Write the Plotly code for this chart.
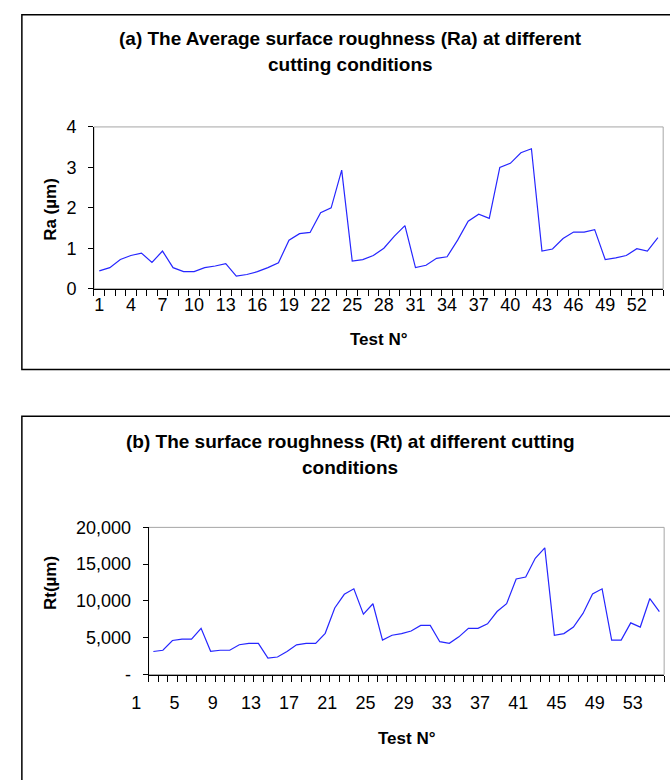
import plotly.graph_objects as go

# Test numbers and measured roughness values
tests = list(range(1, 55))

ra_um = [0.44, 0.52, 0.72, 0.82, 0.88, 0.65, 0.93, 0.52, 0.42, 0.42,
         0.52, 0.56, 0.62, 0.31, 0.35, 0.42, 0.52, 0.64, 1.20, 1.36,
         1.39, 1.88, 2.00, 2.93, 0.68, 0.72, 0.82, 1.00, 1.30, 1.56,
         0.52, 0.58, 0.75, 0.79, 1.20, 1.67, 1.84, 1.74, 3.00, 3.10,
         3.36, 3.46, 0.93, 0.98, 1.24, 1.40, 1.40, 1.46, 0.72, 0.76,
         0.82, 0.99, 0.93, 1.26]

rt_um = [3130, 3300, 4620, 4810, 4810, 6270, 3150, 3300, 3300, 4050,
         4240, 4240, 2230, 2380, 3130, 4040, 4240, 4240, 5600, 9050,
         10900, 11650, 8210, 9620, 4680, 5340, 5560, 5920, 6670, 6670,
         4460, 4240, 5120, 6270, 6270, 6890, 8560, 9620, 12980, 13250,
         15800, 17220, 5340, 5560, 6450, 8300, 10950, 11650, 4680, 4680,
         7020, 6450, 10330, 8560]

ra_ticks = [0, 1, 2, 3, 4]
rt_ticks = [0, 5000, 10000, 15000, 20000]
rt_ticktext = ["-", "5,000", "10,000", "15,000", "20,000"]
ra_xlabels = list(range(1, 55, 3))
rt_xlabels = list(range(1, 55, 4))

W, H = 670, 780
FONT = "Liberation Sans, Arial, sans-serif"
LINE = "#2626ff"


def fx(p):
    return p / W


def fy(p):
    return 1 - p / H


fig = go.Figure()
fig.add_trace(go.Scatter(x=tests, y=ra_um, mode="lines",
                         line=dict(color=LINE, width=1.2),
                         xaxis="x", yaxis="y", showlegend=False,
                         hoverinfo="x+y"))
fig.add_trace(go.Scatter(x=tests, y=rt_um, mode="lines",
                         line=dict(color=LINE, width=1.2),
                         xaxis="x2", yaxis="y2", showlegend=False,
                         hoverinfo="x+y"))

tickfont = dict(family=FONT, size=18, color="#000000")


def cat_axis(domain, labels, anchor, shift=0, standoff=0):
    return dict(
        domain=domain, anchor=anchor, range=[0.5, 54.5],
        tickmode="array", tickvals=labels, ticktext=[str(v) for v in labels],
        ticks="", showgrid=False, zeroline=False,
        showline=True, linecolor="#000000", linewidth=1,
        tickfont=tickfont, ticklabelshift=shift, ticklabelstandoff=standoff,
        minor=dict(tickmode="linear", tick0=0.5, dtick=1, ticks="outside",
                   ticklen=6, tickwidth=1, tickcolor="#000000",
                   showgrid=False),
        fixedrange=True,
    )


def val_axis(domain, rng, vals, text, anchor):
    return dict(
        domain=domain, anchor=anchor, range=rng,
        tickmode="array", tickvals=vals, ticktext=text,
        ticks="outside", ticklen=5, tickwidth=1, tickcolor="#000000",
        showgrid=False, zeroline=False,
        showline=True, linecolor="#000000", linewidth=1,
        tickfont=tickfont, ticklabelstandoff=8, fixedrange=True,
    )


fig.update_layout(
    width=W, height=H, autosize=False,
    margin=dict(l=0, r=0, t=0, b=0),
    paper_bgcolor="#ffffff", plot_bgcolor="#ffffff",
    font=dict(family=FONT, color="#000000"),
    xaxis=cat_axis([fx(79), fx(663)], ra_xlabels, "y", standoff=0),
    yaxis=val_axis([fy(286), fy(120)], [0, 4], ra_ticks,
                   [str(v) for v in ra_ticks], "x"),
    xaxis2=cat_axis([fx(135), fx(664)], rt_xlabels, "y2", shift=-17,
                    standoff=12),
    yaxis2=val_axis([fy(682), fy(531)], [0, 20000], rt_ticks,
                    rt_ticktext, "x2"),
)

shapes = []
# chart frames
shapes.append(dict(type="rect", xref="paper", yref="paper",
                   x0=fx(5), x1=fx(690), y0=fy(369), y1=fy(5),
                   line=dict(color="#000000", width=1.5),
                   fillcolor="rgba(0,0,0,0)", layer="below"))
shapes.append(dict(type="rect", xref="paper", yref="paper",
                   x0=fx(5), x1=fx(690), y0=fy(800), y1=fy(417),
                   line=dict(color="#000000", width=1.5),
                   fillcolor="rgba(0,0,0,0)", layer="below"))
# plot area borders
for xr, yr in (("x domain", "y domain"), ("x2 domain", "y2 domain")):
    shapes.append(dict(type="rect", xref=xr, yref=yr, x0=0, x1=1, y0=0, y1=1,
                       line=dict(color="#a6a6a6", width=1),
                       fillcolor="rgba(0,0,0,0)", layer="below"))
fig.update_layout(shapes=shapes)

bold = dict(family=FONT, size=19, color="#000000")
axis_title_font = dict(family=FONT, size=17, color="#000000")


def label(text, x, y, font, angle=0):
    return dict(text=text, x=fx(x), y=fy(y), xref="paper", yref="paper",
                showarrow=False, font=font, textangle=angle,
                xanchor="center", yanchor="middle")


ann = [
    label("<b>(a) The Average surface roughness (Ra) at different</b>",
          342, 29, bold),
    label("<b>cutting conditions</b>", 342, 56, bold),
    label("<b>(b) The surface roughness (Rt) at different cutting</b>",
          342, 443, bold),
    label("<b>conditions</b>", 342, 470, bold),
    label("<b>Ra (µm)</b>", 35, 205, axis_title_font, -90),
    label("<b>Test N°</b>", 371, 338, axis_title_font),
    label("<b>Rt(µm)</b>", 35, 588, axis_title_font, -90),
    label("<b>Test N°</b>", 400, 748, axis_title_font),
]
fig.update_layout(annotations=ann)

fig.write_html("out.html", config=dict(displayModeBar=False))
